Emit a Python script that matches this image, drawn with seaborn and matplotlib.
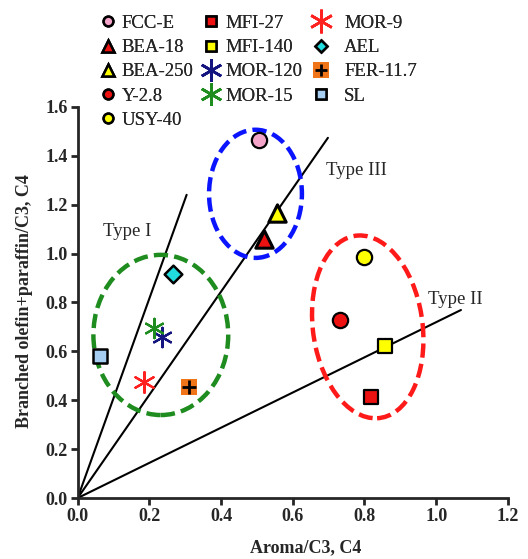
import numpy as np
import pandas as pd
import matplotlib
matplotlib.use("Agg")
import matplotlib.pyplot as plt
from matplotlib.lines import Line2D
from matplotlib.patches import Ellipse
import seaborn as sns

# =========================================
# DATA
# =========================================

samples = ["FCC-E", "BEA-18", "BEA-250", "Y-2.8", "USY-40",
           "MFI-27", "MFI-140", "MOR-120", "MOR-15",
           "MOR-9", "AEL", "FER-11.7", "SL"]
aroma = [0.505, 0.52, 0.557, 0.731, 0.798,
         0.818, 0.857, 0.234, 0.214,
         0.186, 0.267, 0.31, 0.062]
branched = [1.465, 1.06, 1.165, 0.728, 0.985,
            0.412, 0.623, 0.66, 0.694,
            0.476, 0.917, 0.455, 0.582]

# reference lines through the origin: end point of each
type_names = ["Type I", "Type III", "Type II"]
type_end_x = [0.304, 0.698, 1.069]
type_end_y = [1.24, 1.473, 0.769]

# groups (ellipse center / size in data units)
group_cx = [0.496, 0.232, 0.809]
group_cy = [1.244, 0.667, 0.70]
group_w = [0.259, 0.376, 0.307]
group_h = [0.524, 0.655, 0.749]

# =========================================
# STYLE
# =========================================

sns.set_style("ticks")
plt.rcParams["font.family"] = ["Liberation Serif", "DejaVu Serif"]

# marker, face color, size, edge color, edge width
style = {
    "FCC-E":    ("o", "#F4A3C9", 11, "black", 1.6),
    "BEA-18":   ("^", "#EE1111", 12.5, "black", 2.2),
    "BEA-250":  ("^", "#FFFF00", 12.5, "black", 2.2),
    "Y-2.8":    ("o", "#EE1111", 11, "black", 1.6),
    "USY-40":   ("o", "#FFFF00", 11, "black", 1.6),
    "MFI-27":   ("s", "#EE1111", 9.5, "black", 1.6),
    "MFI-140":  ("s", "#FFFF00", 9.5, "black", 1.6),
    "MOR-120":  ((6, 2, 0), "#15157F", 14, "#15157F", 1.6),
    "MOR-15":   ((6, 2, 0), "#1E8C1E", 14, "#1E8C1E", 1.6),
    "MOR-9":    ((6, 2, 0), "#FF2020", 15, "#FF2020", 1.6),
    "AEL":      ("D", "#22DDE0", 9, "black", 1.8),
    "FER-11.7": ("s", "#F07418", 12, "none", 0),
    "SL":       ("s", "#A6CDF2", 10, "black", 1.8),
}
legend_ms = {"o": 7, "^": 8, "s": 7, "D": 6}

df = pd.DataFrame({"sample": samples, "aroma": aroma, "branched": branched})

fig = plt.figure(figsize=(5.28, 5.59), dpi=100)
ax = fig.add_axes([0.147, 0.109, 0.815, 0.7])

# type lines
for name, ex, ey in zip(type_names, type_end_x, type_end_y):
    ax.plot([0, ex], [0, ey], color="black", lw=1.5, zorder=2)

# ellipses
ell_colors = ["#0A14FF", "#1E8C1E", "#FF1A1A"]
ell_angles = [0, 0, 4]
for cx, cy, w, h, c, a in zip(group_cx, group_cy, group_w, group_h, ell_colors, ell_angles):
    ax.add_patch(Ellipse((cx, cy), w, h, angle=a, fill=False, edgecolor=c,
                         lw=3.2, linestyle=(0, (3.2, 1.4)), zorder=3))

handles = {}
for s in samples:
    m, fc, ms, ec, ew = style[s]
    sub = df[df["sample"] == s]
    if isinstance(m, tuple):
        sns.scatterplot(data=sub, x="aroma", y="branched", marker=m, s=ms**2,
                        color=fc, edgecolor=fc, linewidth=ew, ax=ax, zorder=5)
        handles[s] = Line2D([], [], ls="", marker=m, ms=ms + 2, color=fc, mew=1.8)
    elif s == "FER-11.7":
        sns.scatterplot(data=sub, x="aroma", y="branched", marker=m, s=ms**2,
                        color=fc, linewidth=0, ax=ax, zorder=5)
        sns.scatterplot(data=sub, x="aroma", y="branched", marker="+", s=110,
                        color="black", linewidth=2, ax=ax, zorder=6)
        h1 = Line2D([], [], ls="", marker="s", ms=11, color=fc, mew=0)
        h2 = Line2D([], [], ls="", marker="+", ms=9, color="black", mew=2)
        handles[s] = (h1, h2)
    else:
        sns.scatterplot(data=sub, x="aroma", y="branched", marker=m, s=ms**2,
                        color=fc, edgecolor=ec, linewidth=ew, ax=ax, zorder=5)
        handles[s] = Line2D([], [], ls="", marker=m, ms=legend_ms[m],
                            mfc=fc, mec=ec, mew=1.8)

# type labels
ax.text(0.07, 1.09, "Type I", fontsize=13.5, va="center")
ax.text(0.693, 1.34, "Type III", fontsize=13.5, va="center")
ax.text(0.978, 0.81, "Type II", fontsize=13.5, va="center")

ax.set_xlim(0, 1.2)
ax.set_ylim(0, 1.6)
ax.set_xticks(np.arange(0, 1.21, 0.2))
ax.set_yticks(np.arange(0, 1.61, 0.2))
ax.xaxis.set_major_formatter(matplotlib.ticker.FormatStrFormatter("%.1f"))
ax.yaxis.set_major_formatter(matplotlib.ticker.FormatStrFormatter("%.1f"))
for lab in ax.get_xticklabels() + ax.get_yticklabels():
    lab.set_fontweight("bold")
    lab.set_fontsize(13)
ax.tick_params(direction="out", length=5, width=2, pad=2)
sns.despine(ax=ax)
for sp in ["left", "bottom"]:
    ax.spines[sp].set_linewidth(2)

ax.set_xlabel("Aroma/C3, C4", fontsize=13, fontweight="bold")
ax.set_ylabel("Branched olefin+paraffin/C3, C4", fontsize=13, fontweight="bold")
ax.xaxis.set_label_coords(0.53, -0.105)
ax.yaxis.set_label_coords(-0.104, 0.504)

# legends in three columns
cols = [samples[0:5], samples[5:9], samples[9:13]]
col_x = [0.163, 0.359, 0.568]
pads = [0.3, 0.3, 0.75]
for names, lx, tp in zip(cols, col_x, pads):
    leg = fig.legend([handles[n] for n in names], names, loc="upper left",
                     bbox_to_anchor=(lx, 0.997), frameon=False, fontsize=13.5,
                     handlelength=0.9, handletextpad=tp, labelspacing=0.38,
                     borderpad=0.2)
    fig.add_artist(leg)

fig.savefig("out.png", dpi=100)
